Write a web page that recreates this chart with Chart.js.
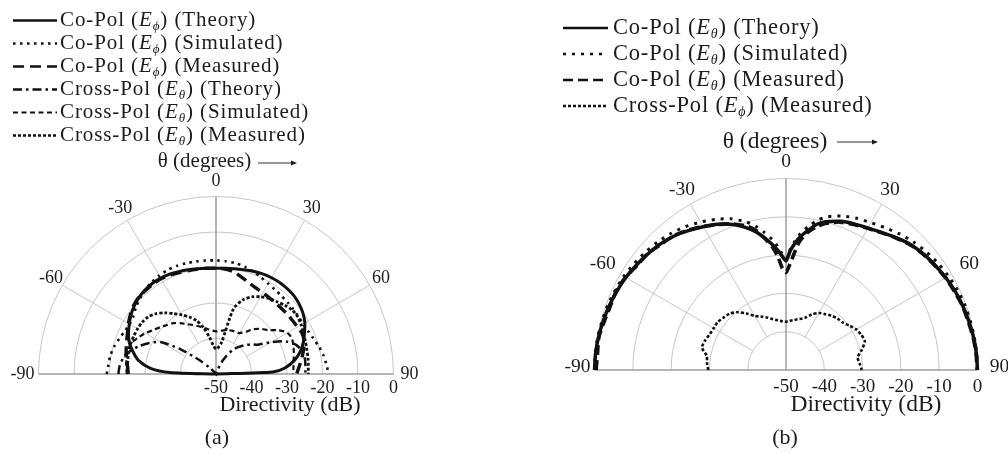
<!DOCTYPE html>
<html>
<head>
<meta charset="utf-8">
<title>Radiation patterns</title>
<script src="https://cdn.jsdelivr.net/npm/chart.js@4.4.1/dist/chart.umd.min.js"></script>
<style>
html,body{margin:0;padding:0;background:#fff;}
body{width:1008px;height:453px;position:relative;overflow:hidden;font-family:"Liberation Serif","Times New Roman",Times,serif;color:#1c1c1c;}
canvas.plot{position:absolute;}
.legend{position:absolute;}
.legend .row{display:flex;align-items:center;white-space:nowrap;}
.legend .row canvas{display:block;flex:none;}
.legend sub{font-size:0.62em;line-height:0;vertical-align:-0.32em;font-style:italic;}
.cap{position:absolute;font-size:22px;line-height:26px;width:60px;text-align:center;}
</style>
</head>
<body>
<canvas id="chartA" class="plot" width="440" height="300" style="left:0;top:150px"></canvas>
<canvas id="chartB" class="plot" width="448" height="300" style="left:560px;top:130px"></canvas>
<div id="legendA" class="legend" style="left:13px;top:8px;font-size:21px;letter-spacing:0.9px;line-height:23px"></div>
<div id="legendB" class="legend" style="left:563px;top:14px;font-size:22.5px;letter-spacing:0.8px;line-height:26px"></div>
<div class="cap" style="left:187px;top:424px">(a)</div>
<div class="cap" style="left:755px;top:424px">(b)</div>
<script>
// ---------------- data ----------------
const DB_FLOOR = -50;
const ringDb = [-40, -30, -20, -10, 0];
const spokeDeg = [-60, -30, 30, 60];
const angleTicks = [-90, -60, -30, 0, 30, 60, 90];
const dbTicks = [-50, -40, -30, -20, -10, 0];

// (a) angles (degrees) and directivity (dB)
const thetaA = [-90,-88,-85,-80,-75,-70,-65,-60,-55,-50,-45,-40,-35,-30,-25,-20,-15,-10,-5,0,5,10,15,20,25,30,35,40,45,50,55,60,65,70,75,80,85,88,90];
const coTheoryA = [-50,-37,-31.5,-27.8,-25.8,-24,-22.8,-21.8,-20.8,-20,-19.4,-19,-18.8,-18.8,-19,-19.3,-19.6,-19.9,-20.1,-20.2,-20.1,-19.9,-19.6,-19.2,-18.9,-18.7,-18.6,-18.7,-18.9,-19.4,-20.1,-21.1,-22.5,-23.8,-25.4,-27.5,-30.5,-34,-50];
const coSimA = [-19.2,-19.4,-19.6,-19.8,-20.3,-21,-21.6,-21.9,-21.6,-20.6,-19.8,-19,-18.4,-18,-17.7,-17.6,-17.7,-17.8,-17.9,-18,-18.1,-18.3,-18.7,-19.3,-20,-20.6,-21,-21.3,-21.5,-21.6,-21.7,-21.7,-21.4,-20.8,-20,-19.3,-18.8,-18.5,-18.4];
const coMeasA = [-25.3,-25.2,-25,-24.3,-23.8,-23.2,-22.5,-21.5,-20.6,-19.8,-19.3,-19.2,-19.1,-19,-19.3,-19.6,-19.9,-20,-20.1,-20.2,-20.3,-20.8,-21.8,-22.7,-23.3,-23.6,-23.8,-23.9,-23.9,-23.8,-23.7,-23.5,-23.2,-23.5,-24.5,-25.5,-26.5,-27,-27.3];
const xTheoryA = [-22.5,-22.6,-22.8,-23.5,-25,-27,-29.3,-32,-38,-44,-47.5,-49.5,-50,-50,-50,-50,-50,-50,-50,-50,-50,-50,-50,-49,-46.5,-44,-41.7,-40,-38.5,-37,-35.6,-32,-28.3,-26,-24.9,-24.6,-24.7,-24.8,-24.9];
const xSimA = [-24.9,-24.8,-24.6,-24.4,-24.4,-24.6,-25.8,-27,-28.4,-29.5,-30.5,-31.3,-32.5,-33.8,-34.8,-35.7,-36.5,-37.2,-37.7,-38,-37.8,-37.5,-37.2,-37,-36.9,-36.7,-35.5,-33.5,-32,-30.8,-28.5,-26.8,-26.4,-26.8,-27.3,-27.8,-28.1,-28.2,-28.3];
const xMeasA = [-25,-25,-25,-24.8,-24.6,-24.5,-24.5,-24.5,-24.6,-25,-26,-27.5,-29.2,-30.8,-32.3,-34,-36.5,-39.5,-42,-43,-42.5,-41,-31,-27.8,-26,-24.9,-24,-23.4,-22.6,-22,-21.9,-22.3,-22.8,-23.2,-23.5,-23.7,-23.9,-24,-24];

// (b) angles (degrees) and directivity (dB)
const thetaB = [-90,-85,-80,-75,-70,-65,-60,-55,-50,-45,-40,-35,-30,-25,-20,-15,-12,-9,-6,-4,-2,0,2,4,6,9,12,15,20,25,30,35,40,45,50,55,60,65,70,75,80,85,90];
const coTheoryB = [0,-0.1,-0.3,-0.6,-0.9,-1.3,-1.7,-2.3,-2.9,-3.5,-4.4,-5.6,-6.8,-8.0,-9.6,-11.7,-13.2,-15.2,-17.2,-18.6,-20.2,-21.5,-18.9,-16.9,-15.1,-13.1,-11.1,-9.9,-8.7,-7.9,-7.2,-6.2,-5.0,-3.8,-3.0,-2.4,-1.8,-1.3,-0.9,-0.6,-0.3,-0.1,0];
const coSimB = [0,0,-0.1,-0.3,-0.5,-0.8,-1.1,-1.6,-2.1,-2.7,-3.4,-4.3,-5.4,-6.6,-8.0,-10.0,-11.6,-13.6,-15.8,-17.5,-19.5,-21.0,-18.5,-16.2,-14.2,-12.0,-10.0,-8.6,-7.2,-6.3,-5.6,-4.7,-3.7,-2.8,-2.1,-1.5,-1.0,-0.6,-0.3,-0.2,-0.1,0,0];
const coMeasB = [-0.4,-0.6,-0.4,-0.9,-1.2,-1.1,-1.6,-2.5,-2.8,-3.7,-4.3,-5.4,-6.7,-8.1,-9.4,-11.2,-12.8,-15.3,-18.0,-20.5,-23.5,-24.5,-22.5,-19.5,-16.3,-13.6,-11.8,-10.4,-8.9,-8.1,-7.3,-6.3,-5.1,-3.9,-3.1,-2.5,-1.9,-1.5,-1.0,-0.8,-0.4,-0.2,-0.1];
const xMeasB = [-29.7,-29.3,-29,-27.3,-27.5,-28,-28.2,-28.2,-28.7,-29.2,-30.3,-32,-33.7,-34.6,-35.4,-36.2,-36.6,-36.9,-37.1,-37.3,-37.4,-37.4,-37.3,-37.2,-37,-36.8,-36.5,-36.2,-35.5,-34,-32.8,-32.2,-31.5,-31,-30.7,-29.8,-28.8,-28.3,-28.1,-29.5,-31,-30.7,-30.2];

// legend names: [polarisation, field component, source]
const namesA = [['Co-Pol','ϕ','Theory'],['Co-Pol','ϕ','Simulated'],['Co-Pol','ϕ','Measured'],['Cross-Pol','θ','Theory'],['Cross-Pol','θ','Simulated'],['Cross-Pol','θ','Measured']];
const namesB = [['Co-Pol','θ','Theory'],['Co-Pol','θ','Simulated'],['Co-Pol','θ','Measured'],['Cross-Pol','ϕ','Measured']];

// ---------------- helpers ----------------
function toXY(thetas, vals){
  return thetas.map((t,i)=>{
    const r = Math.max(0, vals[i] - DB_FLOOR);
    const a = t*Math.PI/180;
    return {x: r*Math.sin(a), y: r*Math.cos(a)};
  });
}
function ds(label, thetas, vals, width, dash){
  return {label, data: toXY(thetas, vals), showLine:true, pointRadius:0, borderColor:'#111', backgroundColor:'#111',
          borderWidth:width, borderDash:dash, borderCapStyle:'butt', fill:false, tension:0.25, clip:12};
}

const polarGrid = {
  id:'polarGrid',
  beforeDatasetsDraw(chart, args, o){
    const {ctx, scales:{x,y}} = chart;
    const cx = x.getPixelForValue(0), cy = y.getPixelForValue(0);
    const k = x.getPixelForValue(1) - cx;
    const R = (0 - DB_FLOOR)*k;
    ctx.save();
    ctx.strokeStyle = '#c6c6c6'; ctx.lineWidth = 1;
    ringDb.forEach(db=>{
      const r = (db-DB_FLOOR)*k;
      ctx.beginPath(); ctx.arc(cx, cy, r, Math.PI, 2*Math.PI); ctx.stroke();
    });
    const r0 = (ringDb[0]-DB_FLOOR)*k;
    spokeDeg.forEach(d=>{
      const a = d*Math.PI/180;
      ctx.beginPath();
      ctx.moveTo(cx + r0*Math.sin(a), cy - r0*Math.cos(a));
      ctx.lineTo(cx + R*Math.sin(a), cy - R*Math.cos(a));
      ctx.stroke();
    });
    ctx.strokeStyle = '#9c9c9c'; ctx.lineWidth = 1.5;
    ctx.beginPath(); ctx.moveTo(cx, cy); ctx.lineTo(cx, cy - R); ctx.stroke();
    ctx.beginPath(); ctx.moveTo(cx - R, cy); ctx.lineTo(cx + R, cy); ctx.stroke();
    ctx.restore();
  },
  afterDraw(chart, args, o){
    const {ctx, scales:{x,y}} = chart;
    const cx = x.getPixelForValue(0), cy = y.getPixelForValue(0);
    const k = x.getPixelForValue(1) - cx;
    const R = (0 - DB_FLOOR)*k;
    ctx.save();
    ctx.fillStyle = '#1c1c1c';
    ctx.textAlign = 'center'; ctx.textBaseline = 'middle';
    ctx.font = o.labelFont + 'px "Liberation Serif", serif';
    angleTicks.forEach((d,i)=>{
      const a = d*Math.PI/180, rr = R + o.labelOff[i];
      let ly = cy - rr*Math.cos(a);
      if (Math.abs(d) === 90) ly = cy + o.sideDy;
      ctx.fillText(String(d), cx + rr*Math.sin(a), ly);
    });
    ctx.font = o.tickFont + 'px "Liberation Serif", serif';
    dbTicks.forEach(v=>{
      ctx.fillText(String(v), cx + (v-DB_FLOOR)*k, cy + o.tickDy);
    });
    ctx.font = o.titleFont + 'px "Liberation Serif", serif';
    ctx.fillText('Directivity (dB)', cx + o.titleDx, cy + o.titleDy);
    ctx.font = o.thetaFont + 'px "Liberation Serif", serif';
    ctx.fillText('θ (degrees)', cx + o.thetaDx, cy + o.thetaDy);
    // arrow
    const [ax1, ax2, ay] = o.arrow;
    ctx.strokeStyle = '#333'; ctx.lineWidth = 1;
    ctx.beginPath(); ctx.moveTo(cx+ax1, cy+ay); ctx.lineTo(cx+ax2-4, cy+ay); ctx.stroke();
    ctx.beginPath(); ctx.moveTo(cx+ax2, cy+ay); ctx.lineTo(cx+ax2-6, cy+ay-2.5); ctx.lineTo(cx+ax2-6, cy+ay+2.5); ctx.closePath(); ctx.fill();
    ctx.restore();
  }
};

function makeChart(id, datasets, pad, gridOpts){
  return new Chart(document.getElementById(id), {
    type:'scatter',
    data:{datasets},
    options:{
      responsive:false, animation:false, devicePixelRatio:1, events:[],
      layout:{padding:pad},
      scales:{
        x:{type:'linear', min:-50, max:50, display:false},
        y:{type:'linear', min:0, max:50, display:false}
      },
      plugins:{legend:{display:false}, tooltip:{enabled:false}, polarGrid:gridOpts}
    },
    plugins:[polarGrid]
  });
}

const chartA = makeChart('chartA', [
  ds('Co-Pol (Eϕ) (Theory)', thetaA, coTheoryA, 3, []),
  ds('Co-Pol (Eϕ) (Simulated)', thetaA, coSimA, 2.6, [2.5,4.5]),
  ds('Co-Pol (Eϕ) (Measured)', thetaA, coMeasA, 3.4, [11,6]),
  ds('Cross-Pol (Eθ) (Theory)', thetaA, xTheoryA, 2.5, [9,4,2.5,4]),
  ds('Cross-Pol (Eθ) (Simulated)', thetaA, xSimA, 2.2, [5,3.5]),
  ds('Cross-Pol (Eθ) (Measured)', thetaA, xMeasA, 2.8, [3,2])
], {left:38.5, right:46.5, top:46.5, bottom:76},
{labelFont:18, labelOff:[16,13,14,15,14,13,16], sideDy:0, tickFont:18, tickDy:14.3, titleFont:22, titleDx:74, titleDy:31,
 thetaFont:21, thetaDx:-11.5, thetaDy:-212.3, arrow:[42,81,-211]});

const chartB = makeChart('chartB', [
  ds('Co-Pol (Eθ) (Theory)', thetaB, coTheoryB, 3.5, []),
  ds('Co-Pol (Eθ) (Simulated)', thetaB, coSimB, 3, [3,6]),
  ds('Co-Pol (Eθ) (Measured)', thetaB, coMeasB, 3.6, [10,5]),
  ds('Cross-Pol (Eϕ) (Measured)', thetaB, xMeasB, 2.6, [3,2])
], {left:34.5, right:30.5, top:48.5, bottom:60},
{labelFont:19.5, labelOff:[17,20,16.5,17,16.5,20,22], sideDy:-3, tickFont:19, tickDy:16.7, titleFont:23.5, titleDx:80, titleDy:35,
 thetaFont:23.5, thetaDx:-11, thetaDy:-228, arrow:[51,92,-228]});

function buildLegend(elId, chart, names, sampleW, gap){
  const el = document.getElementById(elId);
  const lh = parseFloat(el.style.lineHeight);
  chart.data.datasets.forEach((d,i)=>{
    const row = document.createElement('div'); row.className = 'row';
    const c = document.createElement('canvas'); c.width = sampleW; c.height = lh;
    const g = c.getContext('2d');
    g.strokeStyle = d.borderColor; g.lineWidth = Math.min(d.borderWidth, 2.6);
    g.setLineDash(d.borderDash || []);
    g.beginPath(); g.moveTo(0, lh/2 + 1); g.lineTo(sampleW, lh/2 + 1); g.stroke();
    row.appendChild(c);
    const s = document.createElement('span'); s.style.marginLeft = gap + 'px';
    const [kind, field, src] = names[i];
    s.innerHTML = kind + ' (<i>E</i><sub>' + field + '</sub>) (' + src + ')';
    row.appendChild(s);
    el.appendChild(row);
  });
}
buildLegend('legendA', chartA, namesA, 44, 3);
buildLegend('legendB', chartB, namesB, 45, 5);
</script>
</body>
</html>
